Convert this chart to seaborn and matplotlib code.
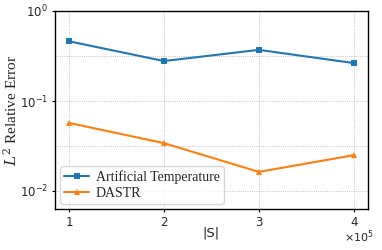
import pandas as pd
import numpy as np
import matplotlib.pyplot as plt
import seaborn as sns
from matplotlib.ticker import FixedLocator, NullFormatter, FuncFormatter

sns.set_style('ticks')

# data
sizes = [1e5, 2e5, 3e5, 4e5]
art_temp = [0.46, 0.278, 0.37, 0.264]
dastr = [0.057, 0.034, 0.0163, 0.025]
methods = ['Artificial Temperature', 'DASTR']

df = pd.DataFrame({
    'S': sizes * 2,
    'err': art_temp + dastr,
    'method': [methods[0]] * 4 + [methods[1]] * 4,
})

fig = plt.figure(figsize=(3.82, 2.5), dpi=100)
ax = fig.add_axes([0.144, 0.164, 0.819, 0.792])

sns.lineplot(data=df, x='S', y='err', hue='method', style='method',
             palette=['#1f77b4', '#ff7f0e'], markers=['s', '^'], dashes=False,
             markersize=4.5, markeredgewidth=0, linewidth=1.5, ax=ax)

ax.set_yscale('log')
ax.set_ylim(10**-2.2, 1)
ax.set_xticks(sizes)
ax.xaxis.set_major_formatter(FuncFormatter(lambda v, p: f'{v / 1e5:g}'))
ax.text(1.018, -0.1, r'$\times10^5$', transform=ax.transAxes,
        ha='right', va='top', fontsize=8)
ax.yaxis.set_minor_locator(FixedLocator([10**-0.5, 10**-1.5]))
ax.yaxis.set_minor_formatter(NullFormatter())
ax.tick_params(axis='y', which='minor', length=0)
ax.tick_params(labelsize=8.5, length=2.5, pad=2.5, color='black')
ax.grid(True, which='both', linestyle=':', linewidth=0.6, color='#b0b0b0')

for s in ax.spines.values():
    s.set_visible(True)
    s.set_color('black')
    s.set_linewidth(1.0)

ax.set_xlabel('|S|', fontsize=9.5)
ax.set_ylabel('$L^2$ Relative Error', fontsize=11, family='Liberation Serif',
              math_fontfamily='dejavuserif')
ax.yaxis.set_label_coords(-0.112, 0.5)
ax.xaxis.set_label_coords(0.5, -0.09)

leg = ax.legend(loc='lower left', prop={'family': 'Liberation Serif', 'size': 10},
                handlelength=1.8, handletextpad=0.5, borderpad=0.3,
                labelspacing=0.2, borderaxespad=0.35)
leg.get_frame().set_edgecolor('#cccccc')

fig.savefig('out.png', dpi=100)
